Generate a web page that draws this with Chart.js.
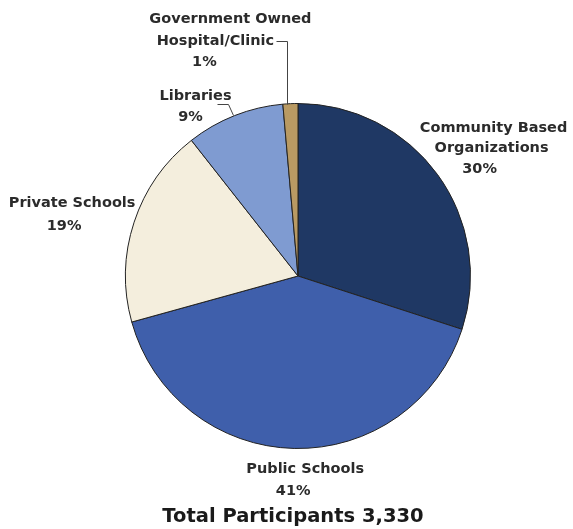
<!DOCTYPE html>
<html>
<head>
<meta charset="utf-8">
<script src="https://cdn.jsdelivr.net/npm/chart.js@4"></script>
<style>
  html, body { margin: 0; padding: 0; background: #fff; }
  #wrap { width: 573px; height: 529px; }
</style>
</head>
<body>
<div id="wrap"><canvas id="pie" width="573" height="529"></canvas></div>
<script>
// ----- Data -----
const categories = [
  "Community Based Organizations",
  "Public Schools",
  "Private Schools",
  "Libraries",
  "Government Owned Hospital/Clinic"
];
const shares = [30.0, 40.7, 18.7, 9.2, 1.4];       // slice sizes
const pctLabels = ["30%", "41%", "19%", "9%", "1%"];
const titleText = "Total Participants 3,330";

// label lines (name split as in the picture)
const nameLines = [
  ["Community Based", "Organizations"],
  ["Public Schools"],
  ["Private Schools"],
  ["Libraries"],
  ["Government Owned", "Hospital/Clinic"]
];

// ----- Styling -----
const colors = ["#1f3864", "#3f5fab", "#f4eedd", "#7f9bd1", "#b99a63"];
const TEXT = "#2b2b2b";
const FONT = "bold 14.5px 'DejaVu Sans', sans-serif";

// per-line offsets from the slice's outer mid-point
const lineOffsets = [
  [[56, -46], [54, -26], [42, -5]],
  [[11, 21], [-1, 43]],
  [[-62, -19], [-70, 4]],
  [[-39, -19], [-44, 2]],
  [[-60, -84], [-75, -62], [-86, -41]]
];
// leader lines, relative to the same mid-point
const leaders = [null, null, null,
  [[-17, -12], [-6, -12], [-1, -1]],
  [[-14, -63], [-3, -63], [-3, 0]]
];

const labelPlugin = {
  id: "pieLabels",
  afterDraw(chart) {
    const c = chart.ctx;
    const meta = chart.getDatasetMeta(0);
    c.save();
    c.font = FONT;
    c.fillStyle = TEXT;
    c.textAlign = "center";
    c.textBaseline = "middle";
    meta.data.forEach((arc, i) => {
      const mid = (arc.startAngle + arc.endAngle) / 2;
      const ax = arc.x + Math.cos(mid) * arc.outerRadius;
      const ay = arc.y + Math.sin(mid) * arc.outerRadius;
      const lines = [...nameLines[i], pctLabels[i]];
      lines.forEach((t, j) => {
        const [dx, dy] = lineOffsets[i][j];
        c.fillText(t, ax + dx, ay + dy);
      });
      if (leaders[i]) {
        c.strokeStyle = "#444";
        c.lineWidth = 1;
        c.beginPath();
        leaders[i].forEach(([dx, dy], k) => {
          const px = Math.round(ax + dx) + 0.5, py = Math.round(ay + dy) + 0.5;
          k ? c.lineTo(px, py) : c.moveTo(px, py);
        });
        c.stroke();
      }
    });
    // bottom title
    c.font = "bold 19.5px 'DejaVu Sans', sans-serif";
    c.fillStyle = "#1a1a1a";
    c.fillText(titleText, 293, 517);
    c.restore();
  }
};

new Chart(document.getElementById("pie"), {
  type: "pie",
  data: {
    labels: categories,
    datasets: [{
      data: shares,
      backgroundColor: colors,
      borderColor: "#222",
      borderWidth: 1
    }]
  },
  options: {
    responsive: false,
    animation: false,
    events: [],
    layout: { padding: { left: 125, right: 102, top: 103, bottom: 80 } },
    plugins: {
      legend: { display: false },
      tooltip: { enabled: false },
      title: { display: false }
    }
  },
  plugins: [labelPlugin]
});
</script>
</body>
</html>
